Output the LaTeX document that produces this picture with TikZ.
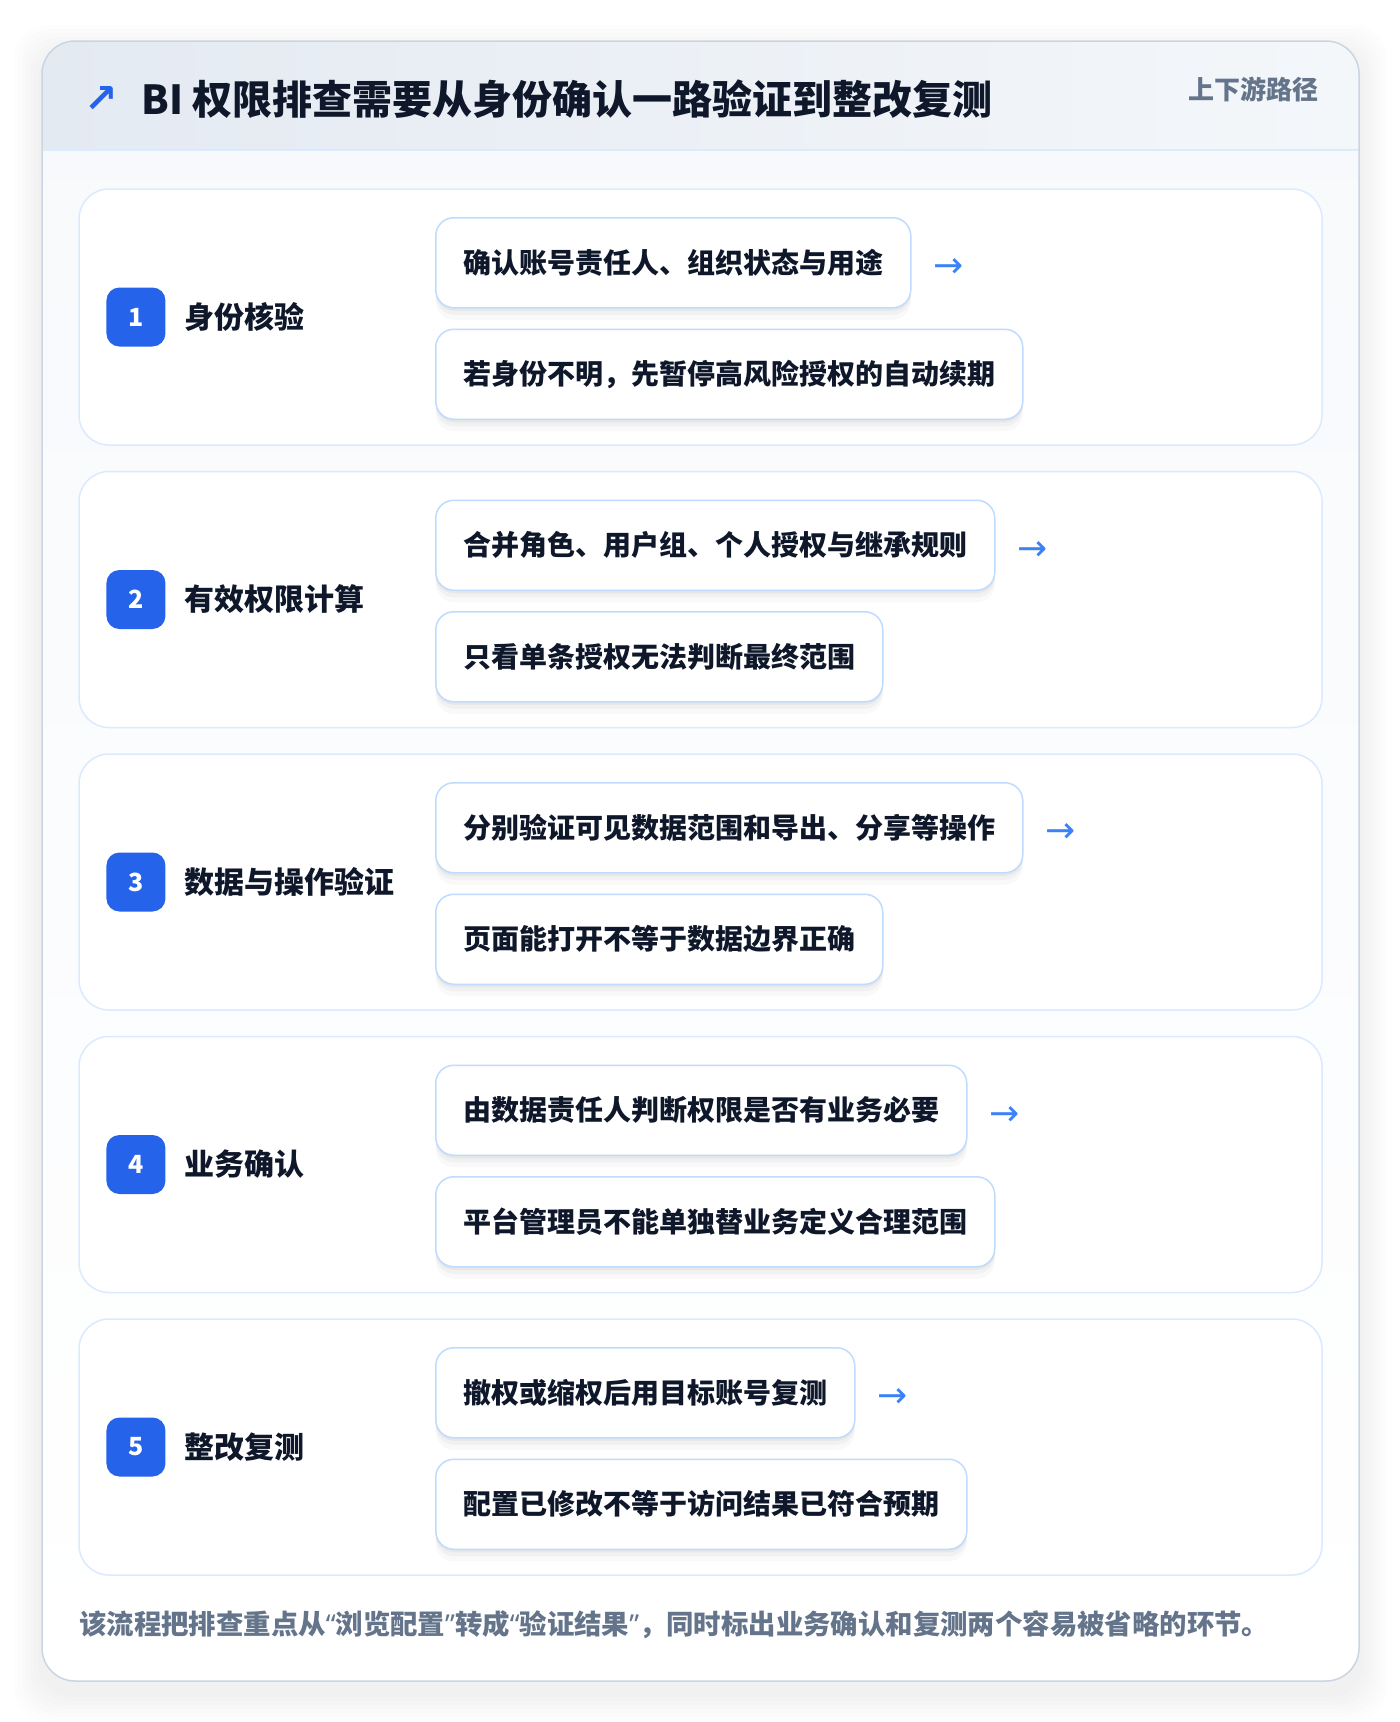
\documentclass[tikz,border=0pt]{standalone}
\usepackage{fontspec}
\setmainfont{Noto Sans CJK SC}
\newfontfamily\symfont{DejaVu Sans}
\newfontfamily\quotefont{Noto Sans}
\usetikzlibrary{positioning}

\definecolor{inkdark}{HTML}{0F172A}
\definecolor{inkgray}{HTML}{64748B}
\definecolor{accent}{HTML}{2563EB}
\definecolor{arrowblue}{HTML}{3B82F6}
\definecolor{framegray}{HTML}{CBD5E1}
\definecolor{cardline}{HTML}{DBEAFE}
\definecolor{boxline}{HTML}{BFDBFE}
\definecolor{bodytop}{HTML}{F7F9FC}
\definecolor{headleft}{HTML}{E4EAF2}
\definecolor{headright}{HTML}{F4F7FA}

\newcommand{\openq}{{\quotefont “}}
\newcommand{\closeq}{{\quotefont ”}}

\tikzset{
  stepcard/.style={draw=cardline, line width=1.5pt, fill=white, rounded corners=30pt,
    minimum width=1243pt, minimum height=256pt, inner sep=0pt},
  badge/.style={fill=accent, rounded corners=13pt, minimum size=59pt, inner sep=0pt,
    text=white, font=\bfseries\fontsize{25}{28}\selectfont},
  steplabel/.style={inner sep=0pt, text=inkdark, font=\bfseries\fontsize{30}{36}\selectfont},
  itembox/.style={draw=boxline, line width=1.5pt, fill=white, rounded corners=18pt,
    minimum height=90pt, inner xsep=27.5pt, inner ysep=0pt, text=inkdark,
    font=\bfseries\fontsize{28}{34}\selectfont,
    preaction={fill=black, fill opacity=0.025, transform canvas={yshift=-12pt}},
    preaction={fill=black, fill opacity=0.03, transform canvas={yshift=-7pt}},
    preaction={fill=black, fill opacity=0.04, transform canvas={yshift=-3pt}}},
  flowarrow/.style={inner sep=0pt, text=arrowblue, font=\symfont\fontsize{36}{40}\selectfont, yshift=-5.5pt},
}

\begin{document}
\begin{tikzpicture}[x=1pt, y=-1pt]
  \useasboundingbox (0,0) rectangle (1400,1722);
  \fill[white] (0,0) rectangle (1400,1722);

  % soft shadow of the frame
  \foreach \d in {4,8,...,28}
    \fill[black, fill opacity=0.008, rounded corners=33pt] (42-\d,41-\d+12) rectangle (1359+\d,1681+\d+12);

  \shade[top color=bodytop, bottom color=white, rounded corners=33pt] (42,41) rectangle (1359,1681);
  \begin{scope}
    \clip[rounded corners=33pt] (42,41) rectangle (1359,1681);
    \shade[left color=headleft, right color=headright] (42,41) rectangle (1359,150);
  \end{scope}
  \draw[cardline, line width=1.5pt] (42,150) -- (1359,150);
  \draw[framegray, line width=1.5pt, rounded corners=33pt] (42,41) rectangle (1359,1681);

  \node (icon) [inner sep=0pt, text=accent, font=\symfont\bfseries\fontsize{40}{44}\selectfont] at (101.5,99) {↗};
  \node (title) [anchor=west, inner sep=0pt, text=inkdark, font=\bfseries\fontsize{40}{48}\selectfont] at (141,99) {BI 权限排查需要从身份确认一路验证到整改复测};
  \node (route) [anchor=east, inner sep=0pt, text=inkgray, font=\bfseries\fontsize{26}{30}\selectfont] at (1319,89) {上下游路径};

  \node (card1) [stepcard] at (700.5,317) {};
  \node (n1) [badge, right=28pt of card1.west] {1};
  \node (l1) [steplabel, right=19pt of n1] {身份核验};
  \node (b1a) [itembox, anchor=north west] at (435,217) {确认账号责任人、组织状态与用途};
  \node (b1b) [itembox, below=20pt of b1a.south west, anchor=north west] {若身份不明，先暂停高风险授权的自动续期};
  \node (a1) [flowarrow, right=22pt of b1a] {→};

  \node (card2) [stepcard] at (700.5,599.5) {};
  \node (n2) [badge, right=28pt of card2.west] {2};
  \node (l2) [steplabel, right=19pt of n2] {有效权限计算};
  \node (b2a) [itembox, anchor=north west] at (435,499.5) {合并角色、用户组、个人授权与继承规则};
  \node (b2b) [itembox, below=20pt of b2a.south west, anchor=north west] {只看单条授权无法判断最终范围};
  \node (a2) [flowarrow, right=22pt of b2a] {→};

  \node (card3) [stepcard] at (700.5,882) {};
  \node (n3) [badge, right=28pt of card3.west] {3};
  \node (l3) [steplabel, right=19pt of n3] {数据与操作验证};
  \node (b3a) [itembox, anchor=north west] at (435,782) {分别验证可见数据范围和导出、分享等操作};
  \node (b3b) [itembox, below=20pt of b3a.south west, anchor=north west] {页面能打开不等于数据边界正确};
  \node (a3) [flowarrow, right=22pt of b3a] {→};

  \node (card4) [stepcard] at (700.5,1164.5) {};
  \node (n4) [badge, right=28pt of card4.west] {4};
  \node (l4) [steplabel, right=19pt of n4] {业务确认};
  \node (b4a) [itembox, anchor=north west] at (435,1064.5) {由数据责任人判断权限是否有业务必要};
  \node (b4b) [itembox, below=20pt of b4a.south west, anchor=north west] {平台管理员不能单独替业务定义合理范围};
  \node (a4) [flowarrow, right=22pt of b4a] {→};

  \node (card5) [stepcard] at (700.5,1447) {};
  \node (n5) [badge, right=28pt of card5.west] {5};
  \node (l5) [steplabel, right=19pt of n5] {整改复测};
  \node (b5a) [itembox, anchor=north west] at (435,1347) {撤权或缩权后用目标账号复测};
  \node (b5b) [itembox, below=20pt of b5a.south west, anchor=north west] {配置已修改不等于访问结果已符合预期};
  \node (a5) [flowarrow, right=22pt of b5a] {→};

  \node (note) [anchor=west, inner sep=0pt, text=inkgray, font=\bfseries\fontsize{27.4}{32}\selectfont] at (79,1625) {该流程把排查重点从\openq 浏览配置\closeq 转成\openq 验证结果\closeq ，同时标出业务确认和复测两个容易被省略的环节。};
\end{tikzpicture}
\end{document}
